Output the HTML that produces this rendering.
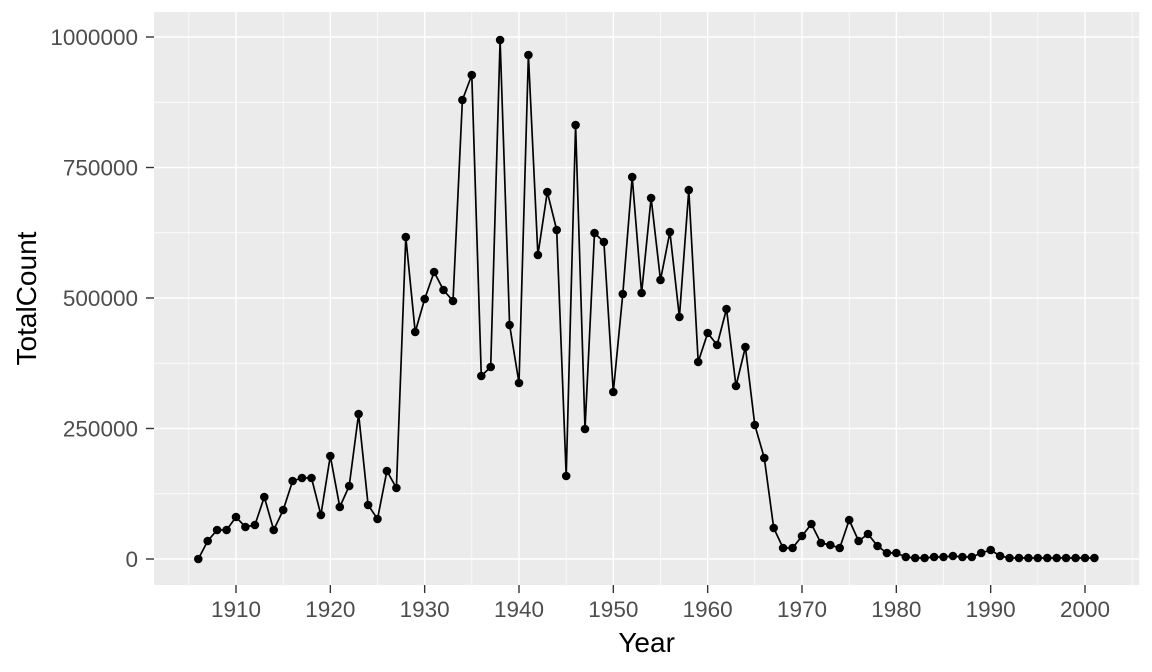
<!DOCTYPE html>
<html><head><meta charset="utf-8"><style>
html,body{margin:0;padding:0;background:#fff;}
svg{display:block;font-family:"Liberation Sans",sans-serif;}
</style></head><body>
<svg id="s" width="1152" height="672" xmlns="http://www.w3.org/2000/svg"></svg>
<script>
var s=document.getElementById('s');var h='';
var X=function(yr){return 236+(yr-1910)*9.4333;};
var L=154,R=X(2005.75),T=12,B=585;
h+='<rect x="'+L+'" y="'+T+'" width="'+(R-L)+'" height="'+(B-T)+'" fill="#ebebeb"/>';
[493.75,363.25,232.75,102.25].forEach(function(y){h+='<line x1="'+L+'" x2="'+R+'" y1="'+y+'" y2="'+y+'" stroke="#fff" stroke-width="0.7"/>';});
for(var yr=1905;yr<=2005;yr+=10){var x=X(yr);h+='<line x1="'+x+'" x2="'+x+'" y1="'+T+'" y2="'+B+'" stroke="#fff" stroke-width="0.7"/>';}
var yl=[[559,'0'],[428.5,'250000'],[298,'500000'],[167.5,'750000'],[37,'1000000']];
yl.forEach(function(a){h+='<line x1="'+L+'" x2="'+R+'" y1="'+a[0]+'" y2="'+a[0]+'" stroke="#fff" stroke-width="1.4"/>';
h+='<line x1="'+(L-8)+'" x2="'+L+'" y1="'+a[0]+'" y2="'+a[0]+'" stroke="#333" stroke-width="1.4"/>';
h+='<text x="'+(L-16)+'" y="'+(a[0]+8)+'" font-size="22.5" fill="#4d4d4d" text-anchor="end">'+a[1]+'</text>';});
for(var yr=1910;yr<=2000;yr+=10){var x=X(yr);h+='<line x1="'+x+'" x2="'+x+'" y1="'+T+'" y2="'+B+'" stroke="#fff" stroke-width="1.4"/>';
h+='<line x1="'+x+'" x2="'+x+'" y1="'+B+'" y2="'+(B+8)+'" stroke="#333" stroke-width="1.4"/>';
h+='<text x="'+x+'" y="617" font-size="22.5" fill="#4d4d4d" text-anchor="middle">'+yr+'</text>';}
var py=[559,541,530,530,517,527,525,497,530,510,481,478,478,515,456,507,486,414,505,519,471,488,237,332,299,272,290,301,100,75,376,367,40,325,383,55,255,192,230,476,125,429,233,242,392,294,177,293,198,280,232,317,190,362,333,345,309,386,347,425,458,528,548,548,536,524,543,545,548,520,541,534,546,553,553,557,558,558,557,557,556,557,557,553,550,556,558,558,558,558,558,558,558,558,558,558];
var pts=py.map(function(y,i){return X(1906+i).toFixed(1)+','+y;});
h+='<polyline points="'+pts.join(' ')+'" fill="none" stroke="#000" stroke-width="1.7"/>';
py.forEach(function(y,i){h+='<circle cx="'+X(1906+i).toFixed(1)+'" cy="'+y+'" r="4.3" fill="#000"/>';});
h+='<text x="'+((L+R)/2)+'" y="652" font-size="28" fill="#000" text-anchor="middle">Year</text>';
h+='<text transform="translate(36,'+((T+B)/2)+') rotate(-90)" font-size="28" fill="#000" text-anchor="middle">TotalCount</text>';
s.innerHTML=h;
</script>
</body></html>
